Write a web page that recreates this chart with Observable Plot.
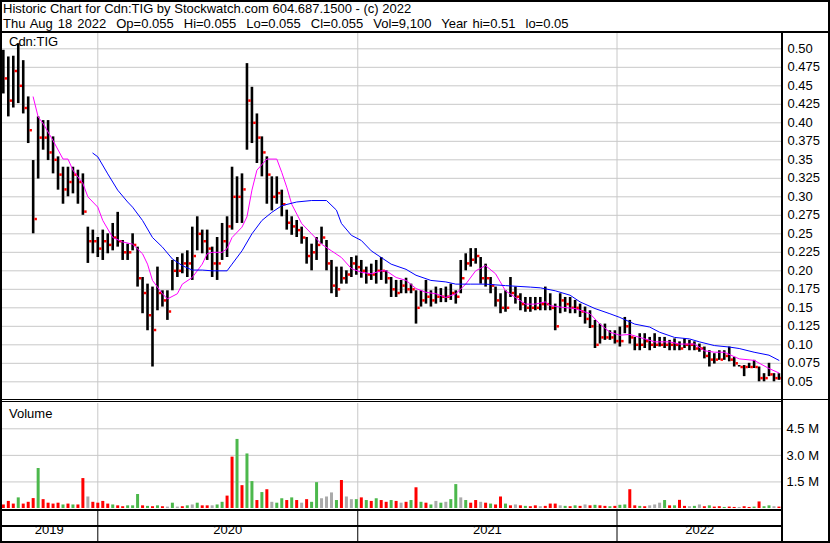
<!DOCTYPE html>
<html><head><meta charset="utf-8">
<script src="https://cdn.jsdelivr.net/npm/d3@7"></script>
<script src="https://cdn.jsdelivr.net/npm/@observablehq/plot@0.6"></script>
<style>
body{margin:0;background:#fff;}
#chart{position:relative;width:830px;height:543px;overflow:hidden;font-family:"Liberation Sans",Arial,sans-serif;font-size:13px;color:#000;background:#fff;}
.ln{position:absolute;background:#000;}
.txt{position:absolute;white-space:pre;line-height:15px;font-size:13px;}
.pnl{position:absolute;left:0;}
.pnl svg{display:block;}
</style></head>
<body><div id="chart"></div>
<script>
// ---- texts ----
const title = "Historic Chart for Cdn:TIG by Stockwatch.com 604.687.1500 - (c) 2022";
const subtitle = "Thu Aug 18 2022  Op=0.055  Hi=0.055  Lo=0.055  Cl=0.055  Vol=9,100  Year hi=0.51  lo=0.05";
const symbolLabel = "Cdn:TIG";
const volumeLabel = "Volume";

// ---- axes ----
const years = [2019, 2020, 2021, 2022];
const priceTicks = [0.05,0.075,0.10,0.125,0.15,0.175,0.20,0.225,0.25,0.275,0.30,0.325,0.35,0.375,0.40,0.425,0.45,0.475,0.50];
const priceLabels = ["0.05","0.075","0.10","0.125","0.15","0.175","0.20","0.225","0.25","0.275","0.30","0.325","0.35","0.375","0.40","0.425","0.45","0.475","0.50"];
const volTicks = [1500, 3000, 4500];            // thousands of shares
const volLabels = ["1.5 M","3.0 M","4.5 M"];

// ---- weekly price bars (week 0 = week of Aug 21 2019) ----
const hi = [0.498,0.489,0.49,0.507,0.484,0.435,0.349,0.408,0.403,0.403,
0.381,0.354,0.34,0.34,0.34,0.336,0.331,0.259,0.255,0.245,
0.255,0.25,0.264,0.279,0.241,0.236,0.25,0.232,0.191,0.182,
0.178,0.205,0.173,0.173,0.214,0.218,0.223,0.227,0.259,0.273,
0.255,0.255,0.232,0.245,0.264,0.273,0.34,0.327,0.331,0.48,
0.448,0.412,0.381,0.354,0.327,0.327,0.309,0.282,0.273,0.268,
0.259,0.245,0.236,0.245,0.259,0.241,0.214,0.205,0.205,0.20,
0.218,0.22,0.214,0.205,0.209,0.214,0.218,0.20,0.191,0.187,
0.187,0.19,0.182,0.173,0.173,0.187,0.173,0.178,0.176,0.178,
0.182,0.173,0.214,0.223,0.23,0.23,0.218,0.209,0.191,0.178,0.169,
0.173,0.191,0.178,0.169,0.164,0.164,0.164,0.164,0.178,0.169,
0.155,0.169,0.164,0.164,0.16,0.155,0.151,0.146,0.133,0.128,
0.128,0.119,0.119,0.124,0.137,0.133,0.11,0.115,0.115,0.11,
0.115,0.11,0.11,0.106,0.108,0.104,0.108,0.106,0.104,0.101,
0.097,0.092,0.088,0.092,0.092,0.097,0.083,0.072,0.072,0.075,
0.079,0.07,0.061,0.075,0.061,0.061];
const lo = [0.439,0.408,0.42,0.426,0.412,0.372,0.25,0.324,0.363,0.349,
0.331,0.309,0.29,0.30,0.304,0.29,0.275,0.21,0.223,0.218,
0.214,0.223,0.227,0.232,0.214,0.214,0.227,0.178,0.142,0.119,
0.07,0.146,0.151,0.133,0.173,0.191,0.196,0.191,0.187,0.227,
0.223,0.214,0.191,0.187,0.214,0.218,0.255,0.264,0.264,0.363,
0.372,0.345,0.327,0.29,0.281,0.29,0.273,0.255,0.248,0.245,
0.236,0.209,0.20,0.214,0.236,0.20,0.169,0.164,0.182,0.182,
0.191,0.194,0.19,0.182,0.187,0.182,0.187,0.182,0.164,0.164,
0.169,0.169,0.169,0.128,0.151,0.155,0.151,0.155,0.157,0.157,
0.16,0.155,0.169,0.20,0.205,0.209,0.182,0.178,0.169,0.151,0.142,
0.144,0.164,0.155,0.146,0.144,0.144,0.146,0.146,0.146,0.146,
0.119,0.142,0.144,0.142,0.142,0.137,0.128,0.122,0.095,0.101,
0.106,0.106,0.101,0.097,0.115,0.101,0.092,0.092,0.095,0.092,
0.095,0.097,0.095,0.092,0.092,0.092,0.095,0.092,0.092,0.09,
0.081,0.07,0.074,0.079,0.079,0.077,0.07,0.07,0.057,0.068,
0.068,0.05,0.05,0.057,0.05,0.052];
const cl = [0.46,0.43,0.47,0.45,0.42,0.39,0.27,0.38,0.38,0.36,
0.35,0.33,0.31,0.32,0.33,0.32,0.28,0.24,0.24,0.23,
0.24,0.235,0.245,0.24,0.225,0.225,0.235,0.19,0.17,0.14,
0.12,0.17,0.16,0.145,0.20,0.20,0.21,0.21,0.22,0.25,
0.24,0.23,0.21,0.21,0.24,0.26,0.30,0.30,0.31,0.43,
0.40,0.38,0.36,0.33,0.30,0.305,0.29,0.265,0.26,0.255,
0.245,0.22,0.225,0.235,0.245,0.21,0.18,0.175,0.19,0.195,
0.21,0.205,0.20,0.195,0.195,0.20,0.20,0.19,0.175,0.17,
0.18,0.175,0.175,0.15,0.16,0.165,0.16,0.165,0.165,0.165,
0.17,0.165,0.19,0.21,0.215,0.22,0.19,0.19,0.18,0.16,0.15,
0.15,0.17,0.165,0.155,0.15,0.15,0.15,0.155,0.155,0.15,
0.125,0.16,0.155,0.15,0.15,0.145,0.135,0.125,0.10,0.11,
0.11,0.11,0.105,0.105,0.125,0.11,0.10,0.10,0.105,0.10,
0.10,0.10,0.10,0.10,0.10,0.095,0.10,0.10,0.095,0.095,
0.085,0.08,0.08,0.08,0.085,0.08,0.075,0.07,0.07,0.07,
0.07,0.055,0.055,0.06,0.055,0.055];

// ---- moving averages (week index, value) ----
const maFastWeek = [6,7,8,10,12,13,14,16,17,19,20,22,24,26,28,29,30,32,33,35,36,38,40,41,42,44,45,46,48,49,50,51,53,55,56,57,58,60,62,64,66,68,70,72,74,76,77,79,81,83,85,87,89,91,93,95,97,99,101,103,105,107,109,110,112,115,118,120,122,124,126,128,131,134,136,139,141,143,145,148,151,154,156];
const maFast = [0.435,0.408,0.399,0.376,0.351,0.351,0.336,0.318,0.30,0.286,0.268,0.245,0.239,0.236,0.223,0.209,0.187,0.169,0.162,0.169,0.182,0.191,0.209,0.223,0.225,0.225,0.23,0.245,0.259,0.273,0.309,0.336,0.351,0.351,0.333,0.313,0.29,0.264,0.25,0.236,0.227,0.218,0.203,0.198,0.196,0.20,0.20,0.191,0.187,0.176,0.171,0.169,0.164,0.169,0.182,0.20,0.207,0.196,0.173,0.164,0.155,0.155,0.158,0.153,0.151,0.149,0.142,0.128,0.117,0.113,0.114,0.11,0.104,0.104,0.101,0.101,0.092,0.09,0.09,0.081,0.079,0.068,0.062];
const maSlowWeek = [18,19,21,23,25,26,28,30,32,34,36,38,40,42,45,46,48,50,52,54,56,59,62,65,67,68,70,72,74,76,78,81,83,86,89,91,94,97,101,106,108,111,114,116,119,122,124,127,130,132,135,138,140,143,146,148,151,154,156];
const maSlow = [0.359,0.354,0.331,0.309,0.293,0.286,0.268,0.245,0.232,0.216,0.207,0.201,0.201,0.20,0.20,0.209,0.227,0.25,0.268,0.279,0.288,0.293,0.295,0.295,0.282,0.264,0.248,0.241,0.227,0.218,0.209,0.202,0.194,0.187,0.185,0.182,0.182,0.182,0.18,0.178,0.177,0.173,0.167,0.158,0.149,0.142,0.137,0.128,0.124,0.117,0.11,0.108,0.104,0.099,0.097,0.095,0.09,0.086,0.079];

// ---- weekly volume (thousands) and colour code r=down g=up n=unchanged ----
const vol = [200,400,250,600,250,350,560,2260,500,300,
250,300,200,250,200,200,1690,650,350,300,
400,250,200,150,100,150,150,790,150,120,
100,150,100,80,300,80,100,150,200,300,
150,150,150,200,350,700,2900,3900,1290,3080,
1520,450,900,1060,350,300,550,450,600,450,
300,500,350,1460,550,650,880,450,1580,650,
500,500,600,450,400,550,450,350,450,400,
300,350,450,1170,350,300,200,400,300,350,
500,1350,600,450,300,450,350,300,250,200,
650,250,150,200,150,120,100,150,100,120,
250,250,150,120,100,150,120,200,150,180,
150,120,100,120,180,200,1060,150,120,100,
150,200,300,450,150,150,460,120,100,120,
200,100,150,80,100,60,80,60,60,100,
60,80,370,100,150,100,80];
const volDir = "rrrgrrrgrr"+"rrgrgrrnrr"+"rrgrrgggrg"+"rgrngnrgng"+"rrnggrrgrg"+"grgrnggrgr"+"nrggnnngrn"+"ngrgrgrrgr"+"nrgrgrgngn"+"ggngrrnrgr"+"rgrnrgrrnr"+"rrngrgrnrg"+"rrgrggrrgr"+"nnngrgrrng"+"nrgrrgrrnr"+"rgrggnr";
const dirColor = {r:"#ff0000", g:"#4cb84c", n:"#aaaaaa"};

// ---- scales / helpers ----
const DAY = 864e5;
const week0 = Date.UTC(2019,7,21);
const dateOf = i => new Date(week0 + i*7*DAY);
const xDomain = [new Date(Date.UTC(2019,7,17)), new Date(Date.UTC(2022,7,22))];
const xOpt = {type:"utc", domain:xDomain, axis:null};
const yearStarts = years.map(y => new Date(Date.UTC(y,0,1))).filter(d => d > xDomain[0] && d < xDomain[1]);
const segs = years.map(y => {
  const a = Math.max(Date.UTC(y,0,1), +xDomain[0]);
  const b = Math.min(Date.UTC(y+1,0,1), +xDomain[1]);
  return {mid: new Date((a+b)/2), label: String(y)};
});
const pstyle = {fontFamily:"'Liberation Sans', Arial, sans-serif", fontSize:"13px", color:"#000", background:"transparent", overflow:"visible"};

const bars = hi.map((h,i) => ({date: dateOf(i), hi: h, lo: lo[i], cl: cl[i]}));
const fast = maFastWeek.map((w,i) => ({date: dateOf(w), v: maFast[i]}));
const slow = maSlowWeek.map((w,i) => ({date: dateOf(w), v: maSlow[i]}));
const volData = vol.map((v,i) => ({date: dateOf(i), v, c: dirColor[volDir[i]]}));

const pricePlot = Plot.plot({
  width:830, height:366, marginLeft:0, marginRight:48, marginTop:0, marginBottom:0,
  x:xOpt, y:{domain:[0.0261,0.5207], axis:null},
  style:pstyle,
  marks:[
    Plot.ruleY(priceTicks, {stroke:"#c8c8c8"}),
    Plot.ruleX(yearStarts, {stroke:"#c8c8c8"}),
    Plot.axisY(priceTicks, {anchor:"right", label:null, tickSize:0, tickPadding:5, fontSize:13, fill:"#000",
      tickFormat: d => priceLabels[priceTicks.indexOf(d)]}),
    Plot.ruleX(bars, {x:"date", y1:"lo", y2:"hi", stroke:"#000", strokeWidth:2.6}),
    Plot.dot(bars, {x:"date", y:"cl", symbol:"square", r:1.4, fill:"#ff0000", stroke:null, dx:2.5}),
    Plot.line(fast, {x:"date", y:"v", stroke:"#ff00ff", strokeWidth:1}),
    Plot.line(slow, {x:"date", y:"v", stroke:"#0000ff", strokeWidth:1})
  ]
});

const volPlot = Plot.plot({
  width:830, height:106, marginLeft:0, marginRight:48, marginTop:0, marginBottom:0,
  x:xOpt, y:{domain:[-56.5,5928.6], axis:null},
  color:{type:"identity"},
  style:pstyle,
  marks:[
    Plot.ruleY(volTicks, {stroke:"#c8c8c8"}),
    Plot.ruleX(yearStarts, {stroke:"#c8c8c8"}),
    Plot.axisY(volTicks, {anchor:"right", label:null, tickSize:0, tickPadding:4, fontSize:13, fill:"#000",
      tickFormat: d => volLabels[volTicks.indexOf(d)]}),
    Plot.ruleX(volData, {x:"date", y1:0, y2:"v", stroke:"c", strokeWidth:3})
  ]
});

const datePlot = Plot.plot({
  width:830, height:30, marginLeft:0, marginRight:48, marginTop:0, marginBottom:0,
  x:xOpt,
  style:pstyle,
  marks:[
    Plot.ruleX(yearStarts, {stroke:"#000", strokeWidth:1}),
    Plot.text(segs, {x:"mid", text:"label", frameAnchor:"bottom", dy:-7.5, fontSize:13, fill:"#000"})
  ]
});

// ---- assemble ----
const root = document.getElementById("chart");
function addPanel(svg, top){ const d = document.createElement("div"); d.className="pnl"; d.style.top = top+"px"; d.appendChild(svg); root.appendChild(d); }
function addText(t, left, top, ws){ const d = document.createElement("div"); d.className="txt"; d.style.left=left+"px"; d.style.top=top+"px"; if (ws) d.style.wordSpacing = ws; d.textContent=t; root.appendChild(d); }
function addLine(l,t,w,h){ const d = document.createElement("div"); d.className="ln"; Object.assign(d.style,{left:l+"px",top:t+"px",width:w+"px",height:h+"px"}); root.appendChild(d); }

addPanel(pricePlot, 33);
addPanel(volPlot, 403);
addPanel(datePlot, 511);
addText(title, 3, 1);
addText(subtitle, 3, 16, "1.4px");
addText(symbolLabel, 9, 34);
addText(volumeLabel, 9, 406);

// frame lines
addLine(0,0,830,2);      // top
addLine(0,0,2,543);      // left
addLine(828,0,2,543);    // right outer
addLine(0,541,830,2);    // bottom
addLine(0,31,830,2);     // header separator
addLine(781,31,2,512);   // plot right border
addLine(0,399,830,1);    // price bottom
addLine(0,401,781,1);    // price bottom (double)
addLine(0,509,781,2);    // volume bottom
addLine(0,525,781,2);    // date strip separator
</script>
</body></html>
